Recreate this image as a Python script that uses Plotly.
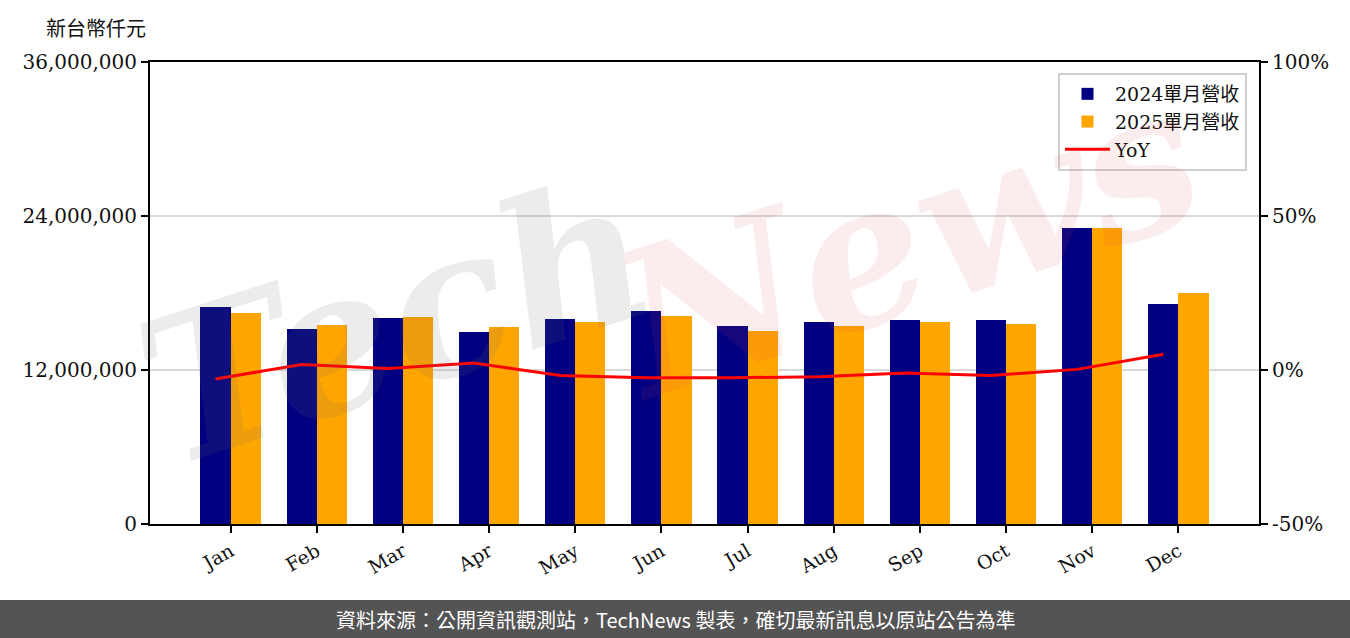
import plotly.graph_objects as go

months = ["Jan", "Feb", "Mar", "Apr", "May", "Jun", "Jul", "Aug", "Sep", "Oct", "Nov", "Dec"]
rev_2024 = [16910000, 15190000, 16050000, 14960000, 15970000, 16600000,
            15430000, 15740000, 15900000, 15900000, 23060000, 17140000]
rev_2025 = [16440000, 15510000, 16130000, 15350000, 15740000, 16210000,
            15040000, 15430000, 15740000, 15580000, 23060000, 18000000]
yoy = [-2.9, 1.8, 0.5, 2.3, -1.8, -2.5, -2.5, -2.2, -1.0, -1.8, 0.2, 5.1]

y_ticks = [0, 12000000, 24000000, 36000000]
y_ticklabels = ["0", "12,000,000", "24,000,000", "36,000,000"]
y2_ticks = [-50, 0, 50, 100]
y2_ticklabels = ["-50%", "0%", "50%", "100%"]

W = 0.35
idx = list(range(len(months)))
x_blue = [i - W / 2 for i in idx]
x_orange = [i + W / 2 for i in idx]

SERIF = "DejaVu Serif"
CJK = "Noto Sans CJK TC"
PW, PH = 1109, 462  # plot area size in px

fig = go.Figure()
fig.add_trace(go.Bar(x=x_blue, y=rev_2024, width=W, name="2024單月營收",
                     marker=dict(color="#000080", line=dict(width=0))))
fig.add_trace(go.Bar(x=x_orange, y=rev_2025, width=W, name="2025單月營收",
                     marker=dict(color="#FFA500", line=dict(width=0))))
fig.add_trace(go.Scatter(x=x_blue, y=yoy, name="YoY", mode="lines",
                         line=dict(color="#FF0000", width=3), yaxis="y2"))

fig.update_layout(
    width=1350, height=638,
    margin=dict(l=150, r=91, t=62, b=114),
    plot_bgcolor="white", paper_bgcolor="white",
    barmode="overlay", bargap=0,
    showlegend=True,
    legend=dict(x=(1247 - 150) / PW, y=(524 - 73) / PH, xanchor="right", yanchor="top",
                bgcolor="rgba(255,255,255,0.85)", bordercolor="#d0d0d0", borderwidth=2,
                itemwidth=45, tracegroupgap=4,
                font=dict(family=f"{SERIF}, {CJK}", size=19, color="#111")),
    xaxis=dict(range=[-0.935, 11.935], tickmode="array", tickvals=idx, ticktext=months,
               tickangle=-30, ticks="outside", ticklen=7, tickwidth=2, tickcolor="black",
               showline=True, linecolor="black", linewidth=2, mirror=True,
               showgrid=False, zeroline=False,
               tickfont=dict(family=SERIF, size=19, color="#111")),
    yaxis=dict(range=[0, 36000000], tickmode="array", tickvals=y_ticks, ticktext=y_ticklabels,
               ticks="outside", ticklen=7, tickwidth=2, tickcolor="black",
               showline=True, linecolor="black", linewidth=2,
               showgrid=True, gridcolor="#d9d9d9", gridwidth=2, zeroline=False,
               tickfont=dict(family=SERIF, size=20, color="#111")),
    yaxis2=dict(range=[-50, 100], tickmode="array", tickvals=y2_ticks, ticktext=y2_ticklabels,
                overlaying="y", side="right", anchor="x",
                ticks="outside", ticklen=7, tickwidth=2, tickcolor="black",
                showline=True, linecolor="black", linewidth=2,
                showgrid=False, zeroline=False,
                tickfont=dict(family=SERIF, size=20, color="#111")),
)

# Top-left unit label
fig.add_annotation(text="新台幣仟元", xref="paper", yref="paper",
                   x=-106 / PW, y=1 + 34 / PH, xanchor="left", yanchor="middle",
                   showarrow=False, font=dict(family=CJK, size=20, color="#111"))

# Watermark
fig.add_annotation(text="Tech", xref="paper", yref="paper",
                   x=(395 - 150) / PW, y=(524 - 320) / PH, xanchor="center", yanchor="middle",
                   showarrow=False, textangle=-18,
                   font=dict(family="DejaVu Serif", size=200, color="rgba(110,110,110,0.13)",
                             style="italic", weight="bold"))
fig.add_annotation(text="News", xref="paper", yref="paper",
                   x=(905 - 150) / PW, y=(524 - 240) / PH, xanchor="center", yanchor="middle",
                   showarrow=False, textangle=-18,
                   font=dict(family="DejaVu Serif", size=200, color="rgba(220,70,85,0.10)",
                             style="italic", weight="bold"))

# Footer band
fig.add_shape(type="rect", xref="paper", yref="paper",
              x0=-150 / PW, x1=1200 / PW, y0=(524 - 640) / PH, y1=(524 - 600) / PH,
              fillcolor="#545454", line=dict(width=0), layer="above")
fig.add_annotation(text="資料來源：公開資訊觀測站，TechNews 製表，確切最新訊息以原站公告為準",
                   xref="paper", yref="paper", x=(675 - 150) / PW, y=(524 - 619) / PH,
                   xanchor="center", yanchor="middle", showarrow=False,
                   font=dict(family=CJK, size=20, color="white"))

fig.write_html("out.html", config={"displayModeBar": False},
               post_script="document.body.style.margin='0';document.body.style.overflow='hidden';")
